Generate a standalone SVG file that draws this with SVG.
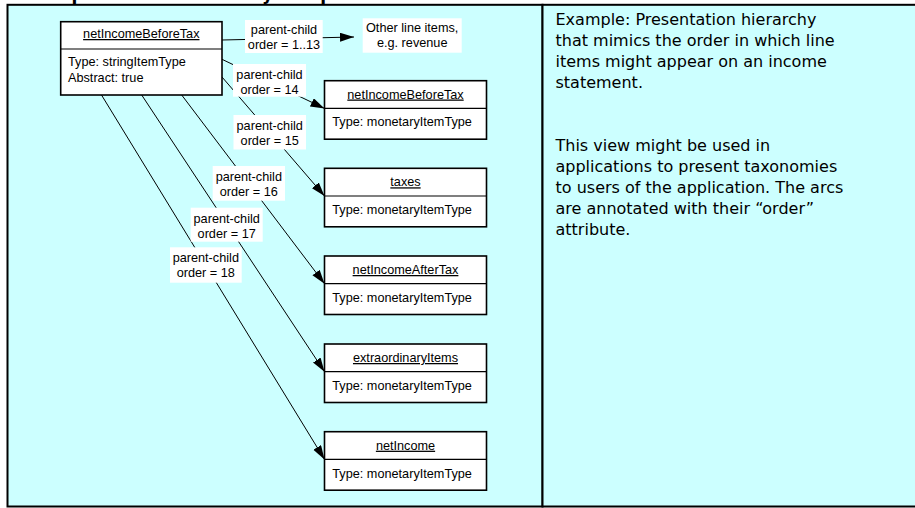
<svg xmlns="http://www.w3.org/2000/svg" width="915" height="508" viewBox="0 0 915 508">
<style>
.panel{fill:#CCFFFF;stroke:#000;stroke-width:2}
.box{fill:#fff;stroke:#000;stroke-width:1.6}
.div{stroke:#000;stroke-width:1.2}
.t{font-family:"Liberation Sans",Arial,sans-serif;font-size:12.7px;fill:#000}
.c{text-anchor:middle}
.u{text-decoration:underline}
.lbl{fill:#fff}
.edge{stroke:#000;stroke-width:1;fill:none;marker-end:url(#ah)}
.side{font-family:"DejaVu Sans",Verdana,sans-serif;font-size:16px;fill:#000}
.title{font-family:"DejaVu Sans",Verdana,sans-serif;font-size:17px;font-weight:bold;fill:#000}
</style>
<defs>
<marker id="ah" markerUnits="userSpaceOnUse" markerWidth="15" markerHeight="10" refX="14" refY="4.5" orient="auto">
<path d="M0,0 L14,4.5 L0,9 z" fill="#000"/>
</marker>
</defs>
<rect width="915" height="508" fill="#fff"/>
<text class="title" x="30" y="0.2">Sample Income hierarchy in a presentation</text>
<rect class="panel" x="7.5" y="4.8" width="535" height="501.7"/>
<rect class="panel" x="542.5" y="4.8" width="380" height="501.7"/>

<g id="connectors">
<line class="edge" x1="222" y1="40" x2="354" y2="37"/>
<line class="edge" x1="222" y1="59.3" x2="324.5" y2="108.4"/>
<line class="edge" x1="222" y1="77" x2="324.5" y2="196"/>
<line class="edge" x1="181.7" y1="95" x2="324.5" y2="283.7"/>
<line class="edge" x1="141.7" y1="95" x2="324.5" y2="371.7"/>
<line class="edge" x1="101.5" y1="95" x2="324.5" y2="459.4"/>
<g id="label-1-13"><rect class="lbl" x="245" y="20" width="77.7" height="33"/><text class="t c" x="284" y="34.3">parent-child</text><text class="t c" x="284" y="49.3">order = 1..13</text></g>
<g id="label-14"><rect class="lbl" x="233" y="64" width="73" height="32.7"/><text class="t c" x="269.5" y="79">parent-child</text><text class="t c" x="269.5" y="94">order = 14</text></g>
<g id="label-15"><rect class="lbl" x="233.5" y="115" width="72.5" height="34.5"/><text class="t c" x="269.7" y="130">parent-child</text><text class="t c" x="269.7" y="145">order = 15</text></g>
<g id="label-16"><rect class="lbl" x="212.7" y="166" width="72.3" height="34.7"/><text class="t c" x="248.8" y="181">parent-child</text><text class="t c" x="248.8" y="196">order = 16</text></g>
<g id="label-17"><rect class="lbl" x="190.7" y="207.7" width="72" height="34"/><text class="t c" x="226.7" y="222.7">parent-child</text><text class="t c" x="226.7" y="237.7">order = 17</text></g>
<g id="label-18"><rect class="lbl" x="170" y="247.3" width="71.7" height="35.4"/><text class="t c" x="205.8" y="262.3">parent-child</text><text class="t c" x="205.8" y="277.3">order = 18</text></g>
</g>

<g id="root">
<rect class="box" x="60.7" y="21.7" width="161.3" height="73.3"/>
<line class="div" x1="60.7" y1="49" x2="222" y2="49"/>
<text class="t c u" x="141.3" y="38">netIncomeBeforeTax</text>
<text class="t" x="68" y="65.7">Type: stringItemType</text>
<text class="t" x="68" y="81.7">Abstract: true</text>
</g>

<g id="other">
<rect class="lbl" x="362.7" y="18.3" width="99" height="34.4"/>
<text class="t c" x="412.2" y="32.3">Other line items,</text>
<text class="t c" x="412.2" y="46.7">e.g. revenue</text>
</g>

<g id="n1">
<rect class="box" x="324.5" y="80.7" width="162" height="58.5"/>
<line class="div" x1="324.5" y1="108.4" x2="486.5" y2="108.4"/>
<text class="t c u" x="405.5" y="98.5">netIncomeBeforeTax</text>
<text class="t" x="332.3" y="126">Type: monetaryItemType</text>
</g>
<g id="n2">
<rect class="box" x="324.5" y="168.3" width="162" height="58.5"/>
<line class="div" x1="324.5" y1="196" x2="486.5" y2="196"/>
<text class="t c u" x="405.5" y="186.3">taxes</text>
<text class="t" x="332.3" y="214.3">Type: monetaryItemType</text>
</g>
<g id="n3">
<rect class="box" x="324.5" y="256" width="162" height="58.5"/>
<line class="div" x1="324.5" y1="283.7" x2="486.5" y2="283.7"/>
<text class="t c u" x="405.5" y="274">netIncomeAfterTax</text>
<text class="t" x="332.3" y="302">Type: monetaryItemType</text>
</g>
<g id="n4">
<rect class="box" x="324.5" y="344" width="162" height="58.5"/>
<line class="div" x1="324.5" y1="371.7" x2="486.5" y2="371.7"/>
<text class="t c u" x="405.5" y="362">extraordinaryItems</text>
<text class="t" x="332.3" y="390">Type: monetaryItemType</text>
</g>
<g id="n5">
<rect class="box" x="324.5" y="431.7" width="162" height="58.5"/>
<line class="div" x1="324.5" y1="459.4" x2="486.5" y2="459.4"/>
<text class="t c u" x="405.5" y="449.7">netIncome</text>
<text class="t" x="332.3" y="477.7">Type: monetaryItemType</text>
</g>

<g id="description">
<text class="side" x="555.5" y="25">Example: Presentation hierarchy</text>
<text class="side" x="555.5" y="46">that mimics the order in which line</text>
<text class="side" x="555.5" y="67">items might appear on an income</text>
<text class="side" x="555.5" y="88">statement.</text>
<text class="side" x="555.5" y="151">This view might be used in</text>
<text class="side" x="555.5" y="172">applications to present taxonomies</text>
<text class="side" x="555.5" y="193">to users of the application. The arcs</text>
<text class="side" x="555.5" y="214">are annotated with their “order”</text>
<text class="side" x="555.5" y="235">attribute.</text>
</g>
</svg>
